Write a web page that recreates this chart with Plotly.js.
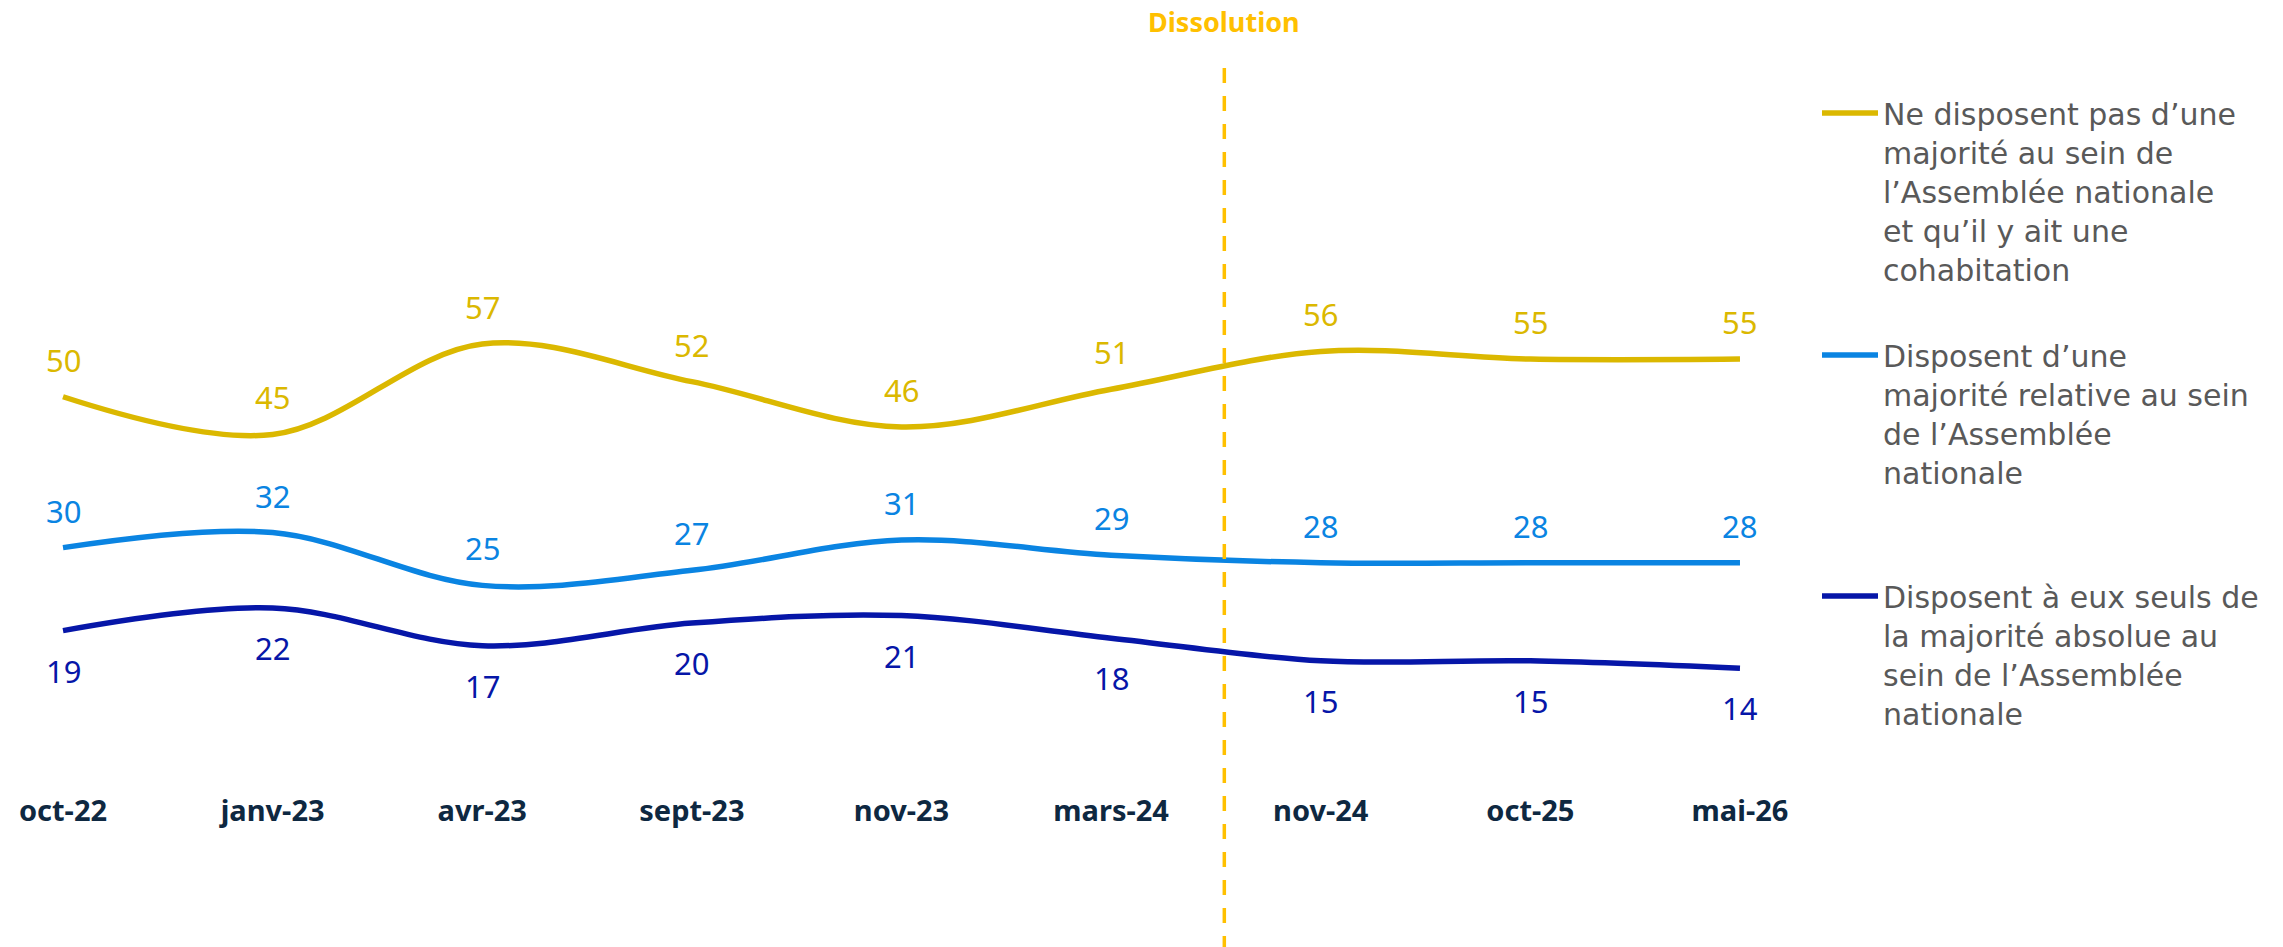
<!DOCTYPE html>
<html>
<head>
<meta charset="utf-8">
<script src="https://cdn.plot.ly/plotly-3.0.1.min.js"></script>
<style>
  html, body { margin: 0; padding: 0; background: #ffffff; }
  #chart { width: 2283px; height: 947px; }
</style>
</head>
<body>
<div id="chart"></div>
<script>
// ---- Data ----
const categories = ['oct-22', 'janv-23', 'avr-23', 'sept-23', 'nov-23', 'mars-24', 'nov-24', 'oct-25', 'mai-26'];
const pasMajorite = [50, 45, 57, 52, 46, 51, 56, 55, 55];
const majoriteRelative = [30, 32, 25, 27, 31, 29, 28, 28, 28];
const majoriteAbsolue = [19, 22, 17, 20, 21, 18, 15, 15, 14];
const seriesNames = [
  'Ne disposent pas d\u2019une<br>majorit\u00e9 au sein de<br>l\u2019Assembl\u00e9e nationale<br>et qu\u2019il y ait une<br>cohabitation',
  'Disposent d\u2019une<br>majorit\u00e9 relative au sein<br>de l\u2019Assembl\u00e9e<br>nationale',
  'Disposent \u00e0 eux seuls de<br>la majorit\u00e9 absolue au<br>sein de l\u2019Assembl\u00e9e<br>nationale'
];
const dissolutionLabel = 'Dissolution';
const dissolutionAt = 5.54; // between mars-24 and nov-24

// ---- Styling ----
const colors = ['#DBB800', '#0A84E2', '#0616A8'];
const W = 2283, H = 947;
const M = { l: 0, r: 493, t: 20, b: 156 };
const plotW = W - M.l - M.r, plotH = H - M.t - M.b;
const px2paperX = x => (x - M.l) / plotW;
const px2paperY = y => (H - M.b - y) / plotH;

const series = [pasMajorite, majoriteRelative, majoriteAbsolue];
const labelShift = [37, 37, -40];

const traces = series.map((vals, k) => ({
  type: 'scatter',
  mode: 'lines',
  x: categories,
  y: vals,
  name: seriesNames[k].replace(/<br>/g, ' '),
  line: { color: colors[k], width: 5.5, shape: 'spline', smoothing: 1 },
  hoverinfo: 'skip',
  showlegend: false
}));

const annotations = [];
series.forEach((vals, k) => {
  vals.forEach((v, i) => {
    annotations.push({
      x: categories[i], y: v, xref: 'x', yref: 'y',
      text: String(v), showarrow: false,
      yshift: labelShift[k],
      font: { family: 'Noto Sans', size: 31, color: colors[k] }
    });
  });
});

// Dissolution label
annotations.push({
  x: dissolutionAt, y: px2paperY(22), xref: 'x', yref: 'paper',
  text: dissolutionLabel, showarrow: false,
  xanchor: 'center', yanchor: 'middle',
  font: { family: 'Noto Sans', size: 27, color: '#FFC000', weight: 'bold' }
});

// Manual legend
const legendLineY = [113, 355, 596];
const legendTextTop = [95, 337, 578];
const shapes = [{
  type: 'line', xref: 'x', yref: 'paper',
  x0: dissolutionAt, x1: dissolutionAt,
  y0: px2paperY(68), y1: px2paperY(H + 5),
  line: { color: '#FFC000', width: 3.5, dash: '15px,13px' }
}];
seriesNames.forEach((nm, k) => {
  shapes.push({
    type: 'line', xref: 'paper', yref: 'paper',
    x0: px2paperX(1822), x1: px2paperX(1878),
    y0: px2paperY(legendLineY[k]), y1: px2paperY(legendLineY[k]),
    line: { color: colors[k], width: 5.5 }
  });
  annotations.push({
    xref: 'paper', yref: 'paper',
    x: px2paperX(1881), y: px2paperY(legendTextTop[k]),
    xanchor: 'left', yanchor: 'top', align: 'left',
    text: nm, showarrow: false,
    font: { family: 'DejaVu Sans', size: 30, color: '#595959' }
  });
});

const y0px = 774, unitPx = 7.545;
const layout = {
  width: W, height: H,
  margin: M,
  paper_bgcolor: '#ffffff', plot_bgcolor: '#ffffff',
  showlegend: false,
  xaxis: {
    type: 'category',
    range: [-0.3006, 8.2386],
    showgrid: false, zeroline: false, showline: false, ticks: '',
    tickfont: { family: 'Noto Sans', size: 29, color: '#0E2841', weight: 'bold' },
    fixedrange: true
  },
  yaxis: {
    range: [-(H - M.b - y0px) / unitPx, (y0px - M.t) / unitPx],
    visible: false, showgrid: false, zeroline: false, fixedrange: true
  },
  shapes: shapes,
  annotations: annotations
};

Plotly.newPlot('chart', traces, layout, { displayModeBar: false, staticPlot: true });
</script>
</body>
</html>
